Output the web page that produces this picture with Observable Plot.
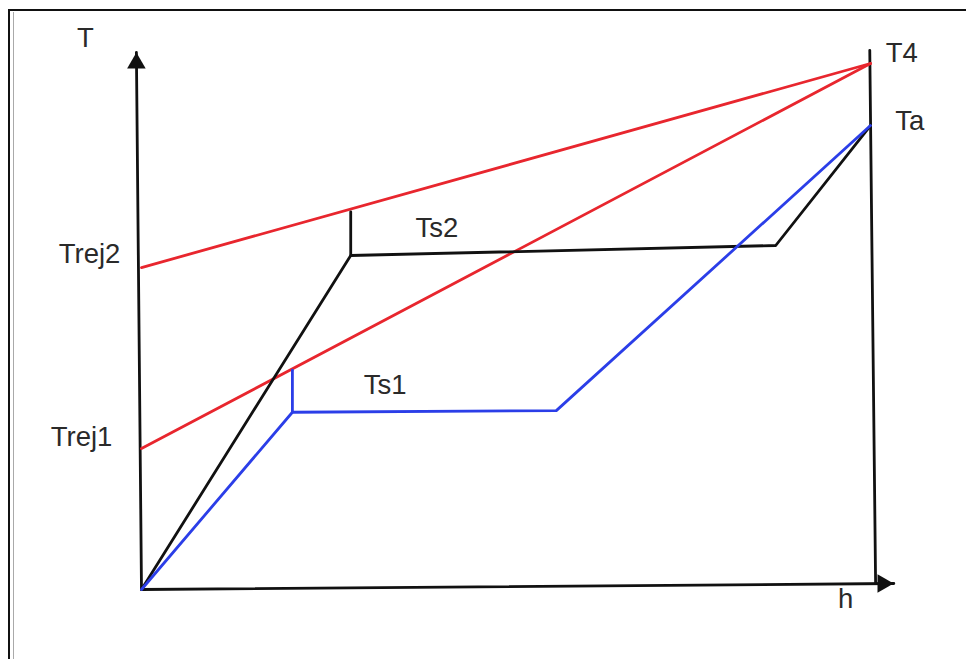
<!DOCTYPE html>
<html>
<head>
<meta charset="utf-8">
<script src="https://cdn.jsdelivr.net/npm/d3@7"></script>
<script src="https://cdn.jsdelivr.net/npm/@observablehq/plot@0.6"></script>
<style>
  body { margin: 0; background: #fff; }
  #wrap { position: relative; width: 966px; height: 659px; overflow: hidden; }
  #chart { position: absolute; left: 0; top: 0; }
  #frame { position: absolute; left: 8px; top: 9px; right: -10px; bottom: -10px;
           border-top: 2px solid #111; border-left: 2px solid #111; pointer-events: none; }
  #frame2 { position: absolute; left: 13px; top: 12px; width: 0; bottom: 0;
            border-left: 1px solid #aaa; pointer-events: none; }
</style>
</head>
<body>
<div id="wrap"><div id="chart"></div><div id="frame"></div><div id="frame2"></div></div>
<script>
// Axis lines (h, T)
const yAxisH = [0, -0.7];
const yAxisT = [0, 102.1];
const xAxisH = [0, 103.2];
const xAxisT = [0, 1.14];
const rightH = [100.7, 99.9];
const rightT = [1.14, 102.5];

// Red rejection lines
const trej2H = [0, 100];
const trej2T = [61.2, 100];
const trej1H = [0, 100];
const trej1T = [26.8, 100];

// Black path (Ts2)
const blackH = [0, 28.7, 87.0, 100];
const blackT = [0, 63.5, 65.4, 88.2];
const blackTickH = [28.7, 28.7];
const blackTickT = [63.5, 71.8];

// Blue path (Ts1)
const blueH = [0, 20.7, 56.9, 100];
const blueT = [0, 33.7, 34.0, 88.2];
const blueTickH = [20.7, 20.7];
const blueTickT = [33.7, 41.7];

// Arrow heads
const arrowH = [-0.7, 101.7];
const arrowT = [100.06, 1.14];
const arrowRot = [0, 90];

// Labels
const labelText = ["T", "T4", "Ta", "Trej2", "Trej1", "Ts2", "Ts1", "h"];
const labelH = [-7.7, 102.1, 103.4, -2.9, -4.0, 37.6, 30.5, 96.6];
const labelT = [104.8, 101.9, 89.0, 63.8, 28.9, 68.7, 38.8, -1.9];
const labelAnchor = ["middle", "start", "start", "end", "end", "start", "start", "middle"];

const pts = (H, T) => H.map((h, i) => ({h, T: T[i]}));
const labels = labelText.map((t, i) => ({t, h: labelH[i], T: labelT[i], a: labelAnchor[i]}));
const arrows = arrowH.map((h, i) => ({h, T: arrowT[i], r: arrowRot[i]}));

const RED = "#e8262e", BLUE = "#2b3ee8", BLACK = "#111";
const lineOpts = (stroke) => ({x: "h", y: "T", stroke, strokeWidth: 2.8, clip: false});

const chart = Plot.plot({
  width: 966,
  height: 659,
  marginLeft: 141,
  marginRight: 96,
  marginTop: 63,
  marginBottom: 70,
  x: {domain: [0, 100], axis: null},
  y: {domain: [0, 100], axis: null},
  style: {fontFamily: "'Liberation Sans', Arial, sans-serif", background: "transparent"},
  marks: [
    Plot.line(pts(yAxisH, yAxisT), lineOpts(BLACK)),
    Plot.line(pts(xAxisH, xAxisT), lineOpts(BLACK)),
    Plot.line(pts(rightH, rightT), lineOpts(BLACK)),
    Plot.line(pts(trej2H, trej2T), lineOpts(RED)),
    Plot.line(pts(trej1H, trej1T), lineOpts(RED)),
    Plot.line(pts(blackH, blackT), lineOpts(BLACK)),
    Plot.line(pts(blackTickH, blackTickT), lineOpts(BLACK)),
    Plot.line(pts(blueH, blueT), lineOpts(BLUE)),
    Plot.line(pts(blueTickH, blueTickT), lineOpts(BLUE)),
    Plot.dot(arrows, {x: "h", y: "T", symbol: "triangle", r: 6.9, fill: BLACK, stroke: "none", rotate: "r", clip: false}),
    ...["start", "middle", "end"].map(a =>
      Plot.text(labels.filter(d => d.a === a), {x: "h", y: "T", text: "t", textAnchor: a, lineAnchor: "middle",
        fontSize: 27.5, fill: "#2a2a2a", clip: false}))
  ]
});
document.getElementById("chart").appendChild(chart);
</script>
</body>
</html>
